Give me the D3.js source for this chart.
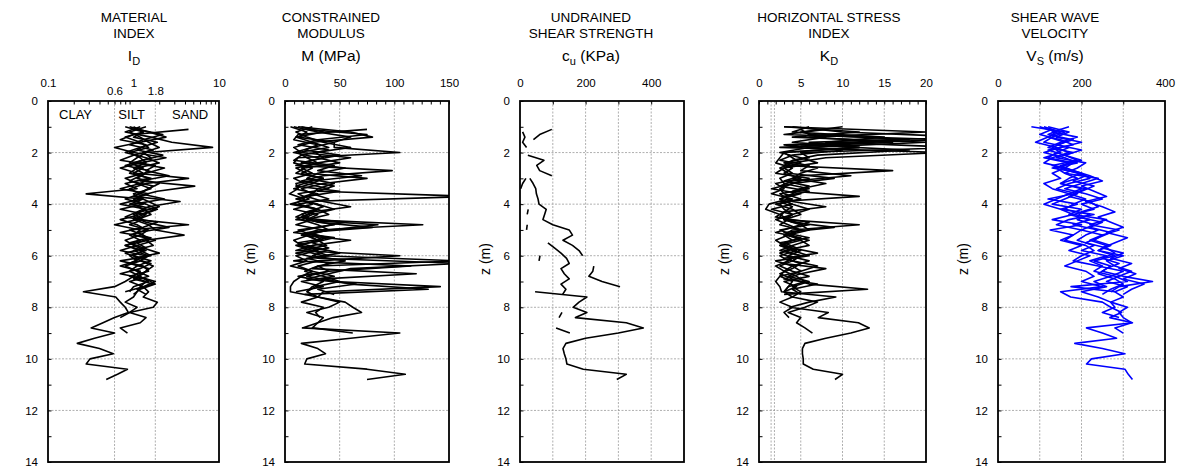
<!DOCTYPE html>
<html><head><meta charset="utf-8">
<script src="https://cdn.jsdelivr.net/npm/d3@7"></script>
<style>
body{margin:0;background:#fff;}
svg text{font-family:"Liberation Sans",Arial,sans-serif;fill:#000;}
</style></head><body>
<svg id="c" width="1182" height="468"></svg>
<script>
const _ = null;
// ---------- depths (m) ----------
const depthShort = [1.0,1.2,1.4,1.6,1.8,2.0,2.2,2.4,2.6,2.8,3.0,3.2,3.4,3.6,3.8,4.0,4.2,4.4,4.6,4.8,5.0,5.2,5.4,5.6,5.8,6.0,6.2,6.4,6.6,6.8,7.0,7.2,7.4];
const depthOdd = [1.1,1.3,1.5,1.7,1.9,2.1,2.3,2.5,2.7,2.9,3.1,3.3,3.5,3.7,3.9,4.1,4.3,4.5,4.7,4.9,5.1,5.3,5.5,5.7,5.9,6.1,6.3,6.5,6.7,6.9,7.1,7.3,7.5];
const depthE = [1.0,1.2,1.4,1.6,1.8,2.0,2.2,2.4,2.6,2.8,3.0,3.2,3.4,3.6,3.8,4.0,4.2,4.4,4.6,4.8,5.0,5.2,5.4,5.6,5.8,6.0,6.2,6.4,6.6,6.8,7.0,7.2,7.4,7.6,7.8,8.0,8.2,8.4];
const depthF = [1.0,1.2,1.4,1.6,1.8,2.0,2.2,2.4,2.6,2.8,3.0,3.2,3.4,3.6,3.8,4.0,4.2,4.4,4.6,4.8,5.0,5.2,5.4,5.6,5.8,6.0,6.2,6.4,6.6,6.8,7.0,7.2,7.4,7.6,7.8,8.0,8.2,8.4,8.6,8.8,9.0];
const depthG = [1.0,1.2,1.4,1.6,1.8,2.0,2.2,2.4,2.6,2.8,3.0,3.2,3.4,3.6,3.8,4.0,4.2,4.4,4.6,4.8,5.0,5.2,5.4,5.6,5.8,6.0,6.2,6.4,6.6,6.8,7.0,7.2,7.4,7.6,7.8,8.0,8.2,8.4,8.6,8.8,9.0,9.2,9.4,9.6,9.8,10.0,10.2,10.4,10.6,10.8];

// ---------- Material index ID ----------
const idA = [1.2,0.8,1.6,2.8,8.4,1.4,1.1,0.9,1.3,1.0,1.5,0.8,1.1,0.28,1.3,0.9,1.8,1.2,0.7,1.1,1.4,0.9,1.2,0.8,1.3,1.0,1.6,1.1,0.9,1.2,1.5,1.0,0.9];
const idB = [4.4,1.0,0.7,1.4,1.1,2.2,1.3,0.8,1.5,1.2,0.9,1.7,1.3,1.0,3.5,1.5,1.1,0.8,1.9,1.3,0.7,1.6,1.1,1.4,0.8,1.2,0.9,1.5,1.3,1.0,1.7,1.1,1.4];
const idC = [0.9,1.5,2.4,1.2,0.6,1.0,2.4,1.2,0.7,1.1,4.4,1.4,0.9,1.2,2.3,1.0,1.3,1.6,1.1,0.6,1.2,1.0,1.8,1.1,0.7,1.4,1.2,0.8,1.1,1.5,0.9,1.3,0.8];
const idD = [1.1,2.2,1.3,0.9,1.7,1.0,0.7,1.8,1.4,2.6,1.2,5.2,1.9,1.1,1.5,2.0,1.2,1.0,1.4,2.6,1.1,1.5,0.9,1.3,2.0,1.0,1.6,1.2,0.7,1.4,1.8,1.2,1.0];
const idE = [0.8,1.3,1.0,1.9,1.2,0.8,1.4,2.0,1.1,0.9,1.6,1.2,0.7,1.5,1.0,1.3,0.7,1.4,1.1,4.4,0.9,1.3,1.5,0.8,1.2,1.6,0.7,1.3,1.5,0.9,1.4,1.2,1.1,1.0,0.8,1.1,0.9,0.7];
const idF = [1.4,0.9,1.2,1.5,2.0,1.3,1.6,1.0,2.3,1.4,1.1,2.0,1.5,1.2,0.8,1.4,1.9,1.3,1.0,1.5,1.8,3.9,1.4,1.7,1.0,1.5,1.2,1.7,1.4,1.1,1.8,1.3,1.5,1.3,1.9,1.7,0.9,1.4,1.2,0.7,0.85];
const idG = [1.0,1.3,0.8,1.2,1.5,0.9,1.2,1.4,1.0,1.3,0.8,1.1,1.6,1.0,1.2,0.7,1.4,1.0,1.3,0.9,1.5,1.2,0.8,1.0,1.4,0.9,1.1,0.7,1.2,1.0,0.8,0.6,0.26,0.62,0.7,0.8,0.87,0.6,0.44,0.32,0.6,0.35,0.22,0.4,0.58,0.31,0.28,0.85,0.65,0.48];

// ---------- Constrained modulus M (MPa) ----------
const mA = [8,30,60,45,45,105,12,8,25,15,35,10,12,4,18,8,30,22,10,85,40,18,30,12,38,25,55,30,18,35,50,28,20];
const mB = [75,12,8,30,18,50,25,10,98,35,15,45,30,170,20,35,20,10,55,30,8,45,25,40,10,30,160,60,40,20,65,30,45];
const mC = [12,60,80,25,8,15,60,30,10,20,75,35,15,25,40,12,30,40,20,126,30,15,60,25,10,105,30,12,25,45,15,35,10];
const mD = [20,75,30,12,40,15,8,45,30,70,25,10,50,20,35,60,25,15,30,80,20,40,12,30,50,20,40,25,120,35,60,131,18];
const mE = [5,20,12,45,25,8,30,50,18,10,35,25,8,30,12,25,8,30,20,45,12,25,35,10,25,40,8,115,40,12,35,25,20,30,15,35,28,32];
const mF = [25,10,20,35,60,28,35,15,55,30,20,45,30,25,10,30,45,25,15,30,40,20,30,38,15,35,160,30,40,20,45,142,35,30,50,40,20,35,30,25,62];
const mG = [15,35,10,25,40,12,20,30,15,25,8,18,40,12,22,5,30,15,25,10,35,22,8,15,30,10,20,5,25,15,8,5,5,30,55,62,70,44,30,16,105,60,15,30,37,20,18,75,110,75];

// ---------- Undrained shear strength cu (kPa) ----------
const cuA = [_,8,15,8,20,_,_,_,_,_,18,8,2,_,_,_,_,_,_,22,20,_,_,_,_,_,_,_,_,_,_,_,_];
const cuB = [97,60,41,_,_,24,73,51,60,97,_,_,_,_,_,_,_,_,_,_,_,_,_,_,_,_,_,_,_,_,_,_,_];
const cuC = [_,_,_,_,_,_,_,_,_,_,30,40,48,50,55,58,80,75,70,100,150,160,131,160,180,191,_,_,_,_,_,_,_];
const cuD = [_,_,_,_,_,_,_,_,_,_,_,_,_,_,_,_,_,_,_,_,_,_,85,105,125,142,150,125,135,150,125,140,130];
const cuE = [_,_,_,_,_,_,_,_,_,_,_,_,_,_,_,_,25,22,_,_,_,_,_,_,_,61,58,_,_,_,_,_,_,_,_,_,128,119];
const cuF = [_,_,_,_,_,_,_,_,_,_,_,_,_,_,_,_,_,_,_,_,_,_,_,_,_,_,_,225,222,210,250,305,_,_,_,_,_,_,_,110,152];
const cuG = [_,_,_,_,_,_,_,_,_,_,_,_,_,_,_,_,_,_,_,_,_,_,_,_,_,_,_,_,_,_,_,_,46,204,180,162,204,169,324,376,300,200,140,131,135,140,143,193,324,295];

// ---------- Horizontal stress index KD ----------
const kA = [4,10,25,6,12,3,2.5,2,4,3,5,2,3,1.5,4,2.5,3,4,2,3.5,5,3,4,2.5,5,3.5,6,4,3,4.5,5.5,3.5,3];
const kB = [8,3,22,5,18,7,4,3,16,5,3,6,4,12,2.5,4,3,2,6,4,2,5,3,4.5,2.5,4,3,8,5,3,7,4,5];
const kC = [3,20,6,16,2.5,22,8,4,2.5,3.5,9,4,2.5,3,5,2,4,5,3,12,4,3,6,4,2.5,5,4,2.5,4,6,3,4.5,3];
const kD = [5,6,18,3,10,4,2.5,6,5,11,4,2.5,6,3,4,8,3,2.5,4,9,3,6,2.5,4,7,3,5,4,2.5,4,6,13,3];
const kE = [3,12,4,20,6,2.5,5,7,3,2,6,4,1.5,5,2.5,4,1.5,4,3,6,2.5,4,5,2.5,4,6,2,4,5,2.5,4,3.5,3,4,2.5,4,3,3.6];
const kF = [6,4,15,8,24,5,6,3,7,5,4,8,5,4,2.5,4,6,4,3,5,6,3.5,5,6,3,5,4,7,5,3.5,6,4,5,4,7,5.5,3.5,5,4.5,5.5,6.4];
const kG = [10,5,8,4,12,3,4,5,3,4,2.5,3,6,2.5,3.5,1.2,0.8,2.5,3.5,2.5,5,3.5,2,3,4.5,2.5,3.5,2,3,2.5,2,2.5,2.7,9.2,6,3.7,8.3,7.1,11.9,13.2,11,8,5.5,5.2,5.2,5.3,5.3,6.5,10,9.1];

// ---------- Shear wave velocity Vs (m/s) ----------
const vsA = [100,140,120,160,130,150,110,170,140,160,190,150,200,170,210,180,160,220,190,230,200,250,220,260,240,280,230,270,250,300,370,290,270];
const vsB = [150,120,180,140,200,160,190,130,170,210,180,230,200,170,220,240,200,190,250,220,270,240,210,260,280,250,290,260,240,280,300,270,250];
const vsC = [80,160,130,110,170,140,120,180,160,200,220,170,140,190,160,130,200,170,220,180,240,210,190,230,200,260,220,250,230,280,310,175,280];
const vsD = [130,100,150,180,120,160,200,150,180,220,250,200,230,260,210,250,280,240,270,300,260,310,280,250,300,270,320,290,330,300,350,320,300];
const vsE = [120,170,140,200,150,110,160,190,130,200,170,150,210,180,120,190,150,230,170,140,200,180,160,210,230,200,180,240,300,270,230,260,200,240,270,280,250,290];
const vsF = [170,130,190,150,120,180,140,210,190,160,240,200,160,210,250,200,230,180,260,220,290,250,230,270,240,300,260,280,320,290,260,310,280,300,270,310,290,300,320,280,300];
const vsG = [110,150,120,90,140,170,130,110,160,130,150,110,130,170,140,110,150,180,130,200,125,180,150,200,170,220,190,160,210,230,200,250,150,174,250,270,296,268,322,212,250,284,184,250,304,224,212,304,312,322];

// ---------- axis labels ----------
const depthTicks = [0,2,4,6,8,10,12,14];
const titles = [["MATERIAL","INDEX"],["CONSTRAINED","MODULUS"],["UNDRAINED","SHEAR STRENGTH"],["HORIZONTAL STRESS","INDEX"],["SHEAR WAVE","VELOCITY"]];
const symbols = [["I","D",""],["M (MPa)","",""],["c","u"," (KPa)"],["K","D",""],["V","S"," (m/s)"]];
const soilLabels = ["CLAY","SILT","SAND"];
const soilLabelPos = [0.21,0.95,4.6];

// ---------- layout ----------
const svg = d3.select("#c");
const Y0 = 101, Y1 = 462;
const y = d3.scaleLinear().domain([0,14]).range([Y0,Y1]);

const panels = [
  {x: d3.scaleLog().domain([0.1,10]).range([48,219]), major:[0.1,1,10], low:[0.6,1.8], minor:[0.2,0.3,0.4,0.5,0.6,0.7,0.8,0.9,2,3,4,5,6,7,8,9], grid:[0.6,1.8], fmt: d=>String(d), tcx:134, ylab:false,
   series:[[depthShort,idA],[depthOdd,idB],[depthShort,idC],[depthOdd,idD],[depthE,idE],[depthF,idF],[depthG,idG]], color:"#000"},
  {x: d3.scaleLinear().domain([0,150]).range([285,449]), major:[0,50,100,150], minor:d3.range(0,150.01,50/6), grid:[50,100], fmt:d=>String(d), tcx:331, ylab:true,
   series:[[depthShort,mA],[depthOdd,mB],[depthShort,mC],[depthOdd,mD],[depthE,mE],[depthF,mF],[depthG,mG]], color:"#000"},
  {x: d3.scaleLinear().domain([0,500]).range([520,684]), major:[0,200,400], minor:[100,200,300,400], grid:[100,200,300,400], fmt:d=>String(d), tcx:591, ylab:true,
   series:[[depthShort,cuA],[depthOdd,cuB],[depthShort,cuC],[depthOdd,cuD],[depthE,cuE],[depthF,cuF],[depthG,cuG]], color:"#000"},
  {x: d3.scaleLinear().domain([0,20]).range([759,926]), major:[0,5,10,15,20], minor:d3.range(0,20.01,1), grid:[1.45,1.85,5,10,15], fmt:d=>String(d), tcx:829, ylab:true,
   series:[[depthShort,kA],[depthOdd,kB],[depthShort,kC],[depthOdd,kD],[depthE,kE],[depthF,kF],[depthG,kG]], color:"#000"},
  {x: d3.scaleLinear().domain([0,400]).range([998,1165]), major:[0,200,400], minor:[100,200,300], grid:[100,200,300], fmt:d=>String(d), tcx:1055, ylab:true,
   series:[[depthShort,vsA],[depthOdd,vsB],[depthShort,vsC],[depthOdd,vsD],[depthE,vsE],[depthF,vsF],[depthG,vsG]], color:"#0000ff"}
];

panels.forEach((p,i) => {
  const [xa, xb] = p.x.range();
  const g = svg.append("g");
  // titles
  g.append("text").attr("x",p.tcx).attr("y",21.5).attr("text-anchor","middle").attr("font-size",13.5).text(titles[i][0]);
  g.append("text").attr("x",p.tcx).attr("y",37.5).attr("text-anchor","middle").attr("font-size",13.5).text(titles[i][1]);
  const s = g.append("text").attr("x",p.tcx).attr("y",61).attr("text-anchor","middle").attr("font-size",15.5);
  s.append("tspan").text(symbols[i][0]);
  if (symbols[i][1]) s.append("tspan").attr("font-size",11).attr("dy",4).text(symbols[i][1]);
  if (symbols[i][2]) s.append("tspan").attr("dy",-4).text(symbols[i][2]);

  // grid
  const grid = g.append("g").attr("stroke","#9a9a9a").attr("stroke-width",0.8).attr("stroke-dasharray","2,1.5");
  [2,4,6,8,10,12].forEach(d => grid.append("line").attr("x1",xa).attr("x2",xb).attr("y1",y(d)).attr("y2",y(d)));
  p.grid.forEach(v => grid.append("line").attr("x1",p.x(v)).attr("x2",p.x(v)).attr("y1",Y0).attr("y2",Y1));

  // data
  const cid = "clip"+i;
  svg.append("clipPath").attr("id",cid).append("rect").attr("x",xa).attr("y",Y0).attr("width",xb-xa).attr("height",Y1-Y0);
  const line = d3.line().defined(d => d[1] != null).x(d => p.x(d[1])).y(d => y(d[0]));
  const dg = g.append("g").attr("clip-path",`url(#${cid})`);
  p.series.forEach(([zs, vs]) => {
    dg.append("path").datum(zs.map((z,k)=>[z,vs[k]])).attr("d",line)
      .attr("fill","none").attr("stroke",p.color).attr("stroke-width",1.6).attr("stroke-linejoin","round");
  });

  // top axis labels
  const top = g.append("g").attr("transform",`translate(0,${Y0})`)
    .call(d3.axisTop(p.x).tickValues(p.major).tickFormat(p.fmt).tickSize(0).tickPadding(14));
  top.select(".domain").remove();
  top.selectAll("text").attr("font-size",11.5).attr("font-family",null);
  if (p.low) {
    const low = g.append("g").attr("transform",`translate(0,${Y0})`)
      .call(d3.axisTop(p.x).tickValues(p.low).tickFormat(p.fmt).tickSize(0).tickPadding(6));
    low.select(".domain").remove();
    low.selectAll("text").attr("font-size",11.5).attr("font-family",null);
  }
  // minor ticks on top (pointing inward)
  const mt = g.append("g").attr("transform",`translate(0,${Y0})`)
    .call(d3.axisBottom(p.x).tickValues(p.minor).tickFormat("").tickSize(3.5));
  mt.select(".domain").remove();
  mt.selectAll("line").attr("stroke","#000");

  // left axis
  const la = g.append("g").attr("transform",`translate(${xa},0)`)
    .call(d3.axisLeft(y).tickValues(depthTicks).tickSize(0).tickPadding(10));
  la.select(".domain").remove();
  la.selectAll("text").attr("font-size",11.5).attr("font-family",null);
  const lt = g.append("g").attr("transform",`translate(${xa},0)`)
    .call(d3.axisRight(y).ticks(14).tickFormat("").tickSize(3.5));
  lt.select(".domain").remove();

  // frame
  g.append("rect").attr("x",xa).attr("y",Y0).attr("width",xb-xa).attr("height",Y1-Y0)
    .attr("fill","none").attr("stroke","#000").attr("stroke-width",1.8);

  if (p.ylab) {
    g.append("text").attr("transform",`translate(${xa-30},259) rotate(-90)`).attr("text-anchor","middle")
      .attr("font-size",14).text("z (m)");
  }
  if (i === 0) {
    soilLabels.forEach((t,k) => g.append("text").attr("x",p.x(soilLabelPos[k])).attr("y",119)
      .attr("text-anchor","middle").attr("font-size",13).text(t));
  }
});
</script>
</body></html>
